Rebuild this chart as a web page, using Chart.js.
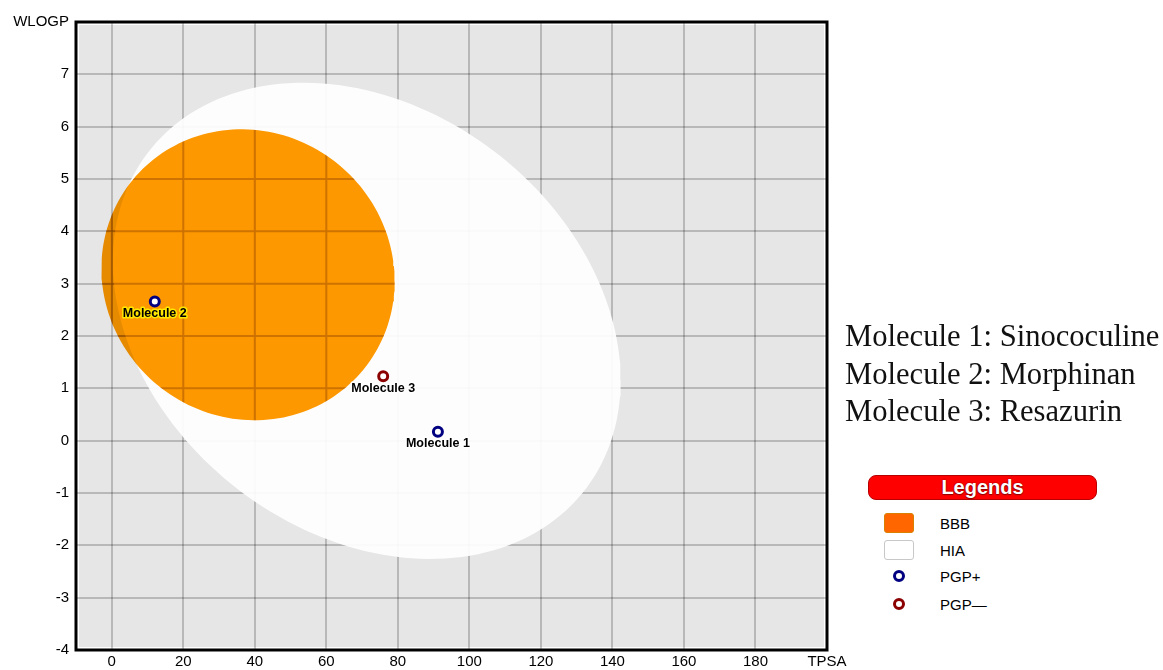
<!DOCTYPE html>
<html>
<head>
<meta charset="utf-8">
<script src="https://cdn.jsdelivr.net/npm/chart.js@4.4.0/dist/chart.umd.min.js"></script>
<style>
  body { margin: 0; background: #fff; width: 1163px; height: 670px; overflow: hidden; position: relative; font-family: "Liberation Sans", Arial, sans-serif; }
  #wrap { position: absolute; left: 0; top: 0; width: 850px; height: 670px; }
  #nomes { position: absolute; left: 845px; top: 318px; font-family: "Liberation Serif", "Times New Roman", serif; font-size: 30.6px; line-height: 37.5px; color: #111; white-space: nowrap; }
  .titulo { position: absolute; left: 868px; top: 475px; width: 227px; height: 23px; background: #ff0000; border: 1px solid #b80000; border-radius: 8px; color: #fff; font-weight: bold; font-size: 20px; line-height: 23px; text-align: center; text-shadow: 0 0 2px #700, 0 1px 1px #900; }
  .item { position: absolute; left: 884px; width: 220px; height: 20px; font-size: 15px; color: #000; }
  .item .txt { position: absolute; left: 56px; top: 10px; transform: translateY(-50%); white-space: nowrap; }
  .item .sw { position: absolute; left: 0; top: 0; width: 28px; height: 18px; border-radius: 3px; }
  .item .pt { position: absolute; left: 9px; top: 4px; width: 6px; height: 6px; border-radius: 50%; background: #fff; }
</style>
</head>
<body>
<div id="wrap"><canvas id="grafico"></canvas></div>
<div id="nomes"></div>
<div class="titulo">Legends</div>
<div id="legenda"></div>

<script>
// Dados
const moleculas = ['Molecule 1', 'Molecule 2', 'Molecule 3'];
const nomesMoleculas = ['Sinococuline', 'Morphinan', 'Resazurin'];
const tpsa = [91.2, 12.03, 75.9];
const wlogp = [0.17, 2.66, 1.23];
const pgp = ['+', '+', '-'];

// elipses do BOILED-Egg (centro, meia-largura, correlação)
const bbbCentro = [38.1, 3.17];
const bbbRaio = [41.0, 2.78];
const bbbCorr = -0.045;
const hiaCentro = [71.3, 2.29];
const hiaRaio = [71.0, 4.55];
const hiaCorr = -0.25;

const xTicks = [0, 20, 40, 60, 80, 100, 120, 140, 160, 180, 200];
const yTicks = [-4, -3, -2, -1, 0, 1, 2, 3, 4, 5, 6, 7, 8];
const legendaLabels = ['BBB', 'HIA', 'PGP+', 'PGP—'];

// Lista de nomes
document.getElementById('nomes').innerHTML =
  moleculas.map((m, i) => `${m}: ${nomesMoleculas[i]}`).join('<br>');

// Legenda lateral
const legendaTopos = [513, 540, 566, 594];
const legendaHtml = legendaLabels.map((lab, i) => {
  let marca;
  if (i === 0) marca = '<div class="sw" style="background:#ff6600;border:1px solid #d98000"></div>';
  else if (i === 1) marca = '<div class="sw" style="background:#fff;border:1px solid #c8c8c8"></div>';
  else if (i === 2) marca = '<div class="pt" style="border:3px solid #000080"></div>';
  else marca = '<div class="pt" style="border:3px solid #8b0000"></div>';
  return `<div class="item" style="top:${legendaTopos[i]}px">${marca}<span class="txt">${lab}</span></div>`;
}).join('');
document.getElementById('legenda').innerHTML = legendaHtml;

function contornoElipse(centro, raio, corr) {
  const pts = [];
  const k = Math.sqrt(1 - corr * corr);
  for (let i = 0; i <= 180; i++) {
    const t = i / 180 * Math.PI * 2;
    pts.push({
      x: centro[0] + raio[0] * Math.cos(t),
      y: centro[1] + raio[1] * (corr * Math.cos(t) + k * Math.sin(t))
    });
  }
  return pts;
}

function dentroElipse(x, y, centro, raio, corr) {
  const u = (x - centro[0]) / raio[0];
  const v = (y - centro[1]) / raio[1];
  const w = (v - corr * u) / Math.sqrt(1 - corr * corr);
  return u * u + w * w <= 1;
}

const pontosPos = [], pontosNeg = [];
moleculas.forEach((m, i) => {
  const p = { x: tpsa[i], y: wlogp[i], nome: m };
  if (pgp[i] === '+') pontosPos.push(p); else pontosNeg.push(p);
});

// fundo cinza, borda e grade visível sobre a gema
const fundo = {
  id: 'fundo',
  beforeDraw(chart) {
    const { ctx, chartArea: a } = chart;
    ctx.save();
    ctx.fillStyle = '#e6e6e6';
    ctx.fillRect(a.left + 3, a.top + 3, a.right - a.left - 6, a.bottom - a.top - 6);
    ctx.restore();
  },
  afterDatasetDraw(chart, args) {
    const ds = chart.data.datasets[args.index];
    if (ds.id === 'hia') chart.ctx.globalCompositeOperation = 'multiply';
    if (ds.id === 'bbb') chart.ctx.globalCompositeOperation = 'source-over';
  },
  afterDatasetsDraw(chart) {
    const { ctx, chartArea: a, scales } = chart;
    ctx.save();
    ctx.globalCompositeOperation = 'source-over';
    ctx.beginPath();
    contornoElipse(bbbCentro, bbbRaio, bbbCorr).forEach((p, i) => {
      const px = scales.x.getPixelForValue(p.x);
      const py = scales.y.getPixelForValue(p.y);
      if (i === 0) ctx.moveTo(px, py); else ctx.lineTo(px, py);
    });
    ctx.closePath();
    ctx.clip();
    ctx.strokeStyle = 'rgba(140,60,0,0.4)';
    ctx.lineWidth = 2;
    ctx.beginPath();
    xTicks.forEach(v => {
      const px = scales.x.getPixelForValue(v);
      ctx.moveTo(px, a.top); ctx.lineTo(px, a.bottom);
    });
    yTicks.forEach(v => {
      const py = scales.y.getPixelForValue(v);
      ctx.moveTo(a.left, py); ctx.lineTo(a.right, py);
    });
    ctx.stroke();
    ctx.restore();
  },
  afterDraw(chart) {
    const { ctx, chartArea: a } = chart;
    ctx.save();
    ctx.strokeStyle = '#000';
    ctx.lineWidth = 3;
    ctx.strokeRect(a.left, a.top, a.right - a.left, a.bottom - a.top);
    ctx.restore();
  }
};

// rótulos das moléculas
const rotulos = {
  id: 'rotulos',
  afterDatasetsDraw(chart) {
    const ctx = chart.ctx;
    ctx.save();
    ctx.font = 'bold 12.5px "Liberation Sans", Arial, sans-serif';
    ctx.textAlign = 'center';
    ctx.textBaseline = 'middle';
    ctx.lineJoin = 'round';
    chart.data.datasets.forEach((ds, di) => {
      if (!ds.pontos) return;
      chart.getDatasetMeta(di).data.forEach((el, j) => {
        const p = ds.data[j];
        const amarelo = dentroElipse(p.x, p.y, bbbCentro, bbbRaio, bbbCorr);
        ctx.lineWidth = 3;
        ctx.strokeStyle = amarelo ? 'rgba(255,235,0,0.95)' : 'rgba(255,255,255,0.8)';
        ctx.strokeText(p.nome, el.x, el.y + 12);
        ctx.fillStyle = '#000';
        ctx.fillText(p.nome, el.x, el.y + 12);
      });
    });
    ctx.restore();
  }
};

const fonteEixo = { family: '"Liberation Sans", Arial, sans-serif', size: 15 };
const grade = { color: 'rgba(0,0,0,0.2)', lineWidth: 2, drawTicks: false };

new Chart(document.getElementById('grafico'), {
  type: 'scatter',
  data: {
    datasets: [
      {
        label: 'PGP+', pontos: true, order: 0,
        data: pontosPos,
        pointRadius: 4.5, borderWidth: 3,
        backgroundColor: '#fff', borderColor: '#000080'
      },
      {
        label: 'PGP-', pontos: true, order: 1,
        data: pontosNeg,
        pointRadius: 4.5, borderWidth: 3,
        backgroundColor: '#fff', borderColor: '#8b0000'
      },
      {
        id: 'bbb', type: 'line', label: 'BBB', order: 2,
        data: contornoElipse(bbbCentro, bbbRaio, bbbCorr),
        fill: 'shape', backgroundColor: 'rgb(255,153,0)',
        borderColor: 'transparent', borderWidth: 0, pointRadius: 0, tension: 0
      },
      {
        id: 'hia', type: 'line', label: 'HIA', order: 3,
        data: contornoElipse(hiaCentro, hiaRaio, hiaCorr),
        fill: 'shape', backgroundColor: 'rgba(255,255,255,0.92)',
        borderColor: 'transparent', borderWidth: 0, pointRadius: 0, tension: 0
      }
    ]
  },
  options: {
    responsive: true,
    maintainAspectRatio: false,
    animation: false,
    layout: { padding: { top: 22, right: 23, left: 0, bottom: 0 } },
    plugins: { legend: { display: false }, tooltip: { enabled: false } },
    scales: {
      x: {
        type: 'linear', min: -10, max: 200,
        afterBuildTicks: s => { s.ticks = xTicks.map(v => ({ value: v })); },
        afterFit: s => { s.height = 20; },
        grid: grade,
        border: { display: false },
        ticks: {
          padding: 3, maxRotation: 0, autoSkip: false, color: '#000', font: fonteEixo,
          callback: v => v === 200 ? 'TPSA' : v
        }
      },
      y: {
        type: 'linear', min: -4, max: 8,
        afterBuildTicks: s => { s.ticks = yTicks.map(v => ({ value: v })); },
        afterFit: s => { s.width = 76; },
        grid: grade,
        border: { display: false },
        ticks: {
          padding: 7, autoSkip: false, color: '#000', font: fonteEixo,
          callback: v => v === 8 ? 'WLOGP' : v
        }
      }
    }
  },
  plugins: [fundo, rotulos]
});
</script>
</body>
</html>
